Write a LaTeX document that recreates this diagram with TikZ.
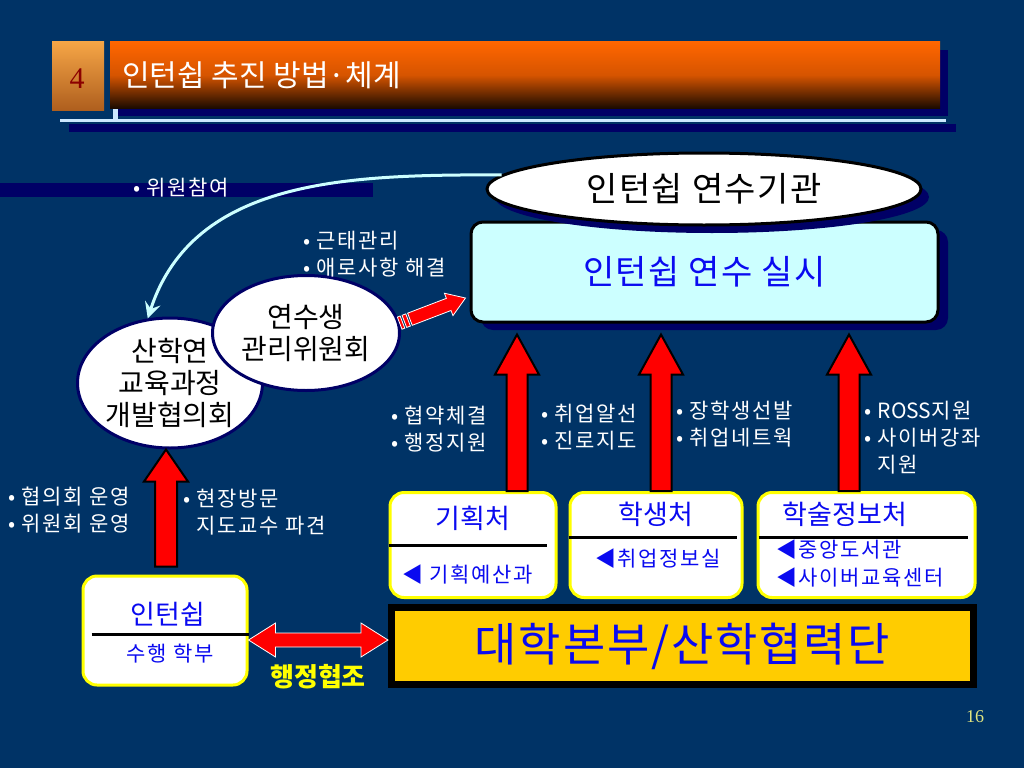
\documentclass[tikz,border=0pt]{standalone}
\usepackage{fontspec}
\setmainfont{Noto Sans CJK KR}
\newfontfamily\numfont{Liberation Serif}
\newfontfamily\spacedfont[LetterSpace=8]{Noto Sans CJK KR}
\newfontfamily\widefont[LetterSpace=4]{Noto Sans CJK KR}
\usetikzlibrary{arrows.meta,positioning,shapes.geometric,shadows,calc}
\definecolor{slideBlue}{HTML}{003366}
\definecolor{slideNavy}{HTML}{000066}
\definecolor{slideOrange}{HTML}{FF6600}
\definecolor{slideBrown}{HTML}{1C0B00}
\definecolor{slideCyan}{HTML}{CCFFFF}
\definecolor{slideLine}{HTML}{CCE8FF}
\definecolor{slideText}{HTML}{0A0AF0}
\definecolor{slideGold}{HTML}{FFCC00}
\definecolor{slideYellow}{HTML}{FFFF00}
\definecolor{slideRed}{HTML}{FF0000}
\definecolor{slideMaroon}{HTML}{8B0000}

% block arrow: [style]{from}{to}{half shaft}{half head}{head length}
\newcommand\blockarrow[6][]{%
  \coordinate (ba-h) at ($(#3)!#6!(#2)$);
  \draw[#1] ($(#2)!#4!90:(#3)$) -- ($(ba-h)!#4!90:(#3)$) -- ($(ba-h)!#5!90:(#3)$) -- (#3)
    -- ($(ba-h)!#5!-90:(#3)$) -- ($(ba-h)!#4!-90:(#3)$) -- ($(#2)!#4!-90:(#3)$) -- cycle;}
\newcommand\dblockarrow[6][]{%
  \coordinate (ba-a) at ($(#2)!#6!(#3)$);
  \coordinate (ba-b) at ($(#3)!#6!(#2)$);
  \draw[#1] (#2) -- ($(ba-a)!#5!90:(#3)$) -- ($(ba-a)!#4!90:(#3)$) -- ($(ba-b)!#4!-90:(#2)$)
    -- ($(ba-b)!#5!-90:(#2)$) -- (#3) -- ($(ba-b)!#5!90:(#2)$) -- ($(ba-b)!#4!90:(#2)$)
    -- ($(ba-a)!#4!-90:(#3)$) -- ($(ba-a)!#5!-90:(#3)$) -- cycle;}
\newcommand\blockbar[4][]{%
  \draw[#1] ($(#2)!#4!90:(#3)$) -- ($(#3)!#4!-90:(#2)$) -- ($(#3)!#4!90:(#2)$) -- ($(#2)!#4!-90:(#3)$) -- cycle;}

\begin{document}
\begin{tikzpicture}[x=1pt,y=-1pt,
 numbox/.style={top color={rgb,255:red,245;green,165;blue,70},bottom color={rgb,255:red,175;green,95;blue,30},minimum width=52,minimum height=68,inner sep=0pt},
 titlebar/.style={top color=slideOrange,bottom color=slideBrown,middle color={rgb,255:red,214;green,84;blue,0},minimum width=830,minimum height=66,inner sep=0pt},
 note/.style={text=white,font=\spacedfont\fontsize{21}{27}\selectfont,align=left,inner sep=0pt,anchor=west},
 council/.style={ellipse,draw=slideNavy,line width=3pt,fill=white,inner sep=0pt,inner xsep=-4pt,align=center,font=\fontsize{28}{32}\selectfont},
 shadowed/.style={drop shadow={shadow xshift=#1,shadow yshift=-8pt,fill=slideNavy,opacity=1}},
 unit/.style={rounded corners=14pt,draw=slideYellow,line width=3pt,fill=white,inner sep=0pt},
 unittitle/.style={text=slideText,font=\fontsize{27}{30}\selectfont,inner sep=0pt},
 unitsub/.style={text=slideText,font=\spacedfont\fontsize{21}{28}\selectfont,inner sep=0pt,align=left},
 divider/.style={draw=black,line width=3pt},
 bigarrow/.style={fill=slideRed,draw=black,line width=2pt,line join=miter},
 thinarrow/.style={fill=slideRed,draw=white,line width=0.8pt,line join=miter},
 feedback/.style={draw=slideCyan,line width=3pt,-{Stealth[length=16pt,width=16pt,inset=6pt]}}
]
\useasboundingbox (0,0) rectangle (1024,768);
\fill[slideBlue] (0,0) rectangle (1024,768);

% title
\fill[slideNavy] (117,50) rectangle (948,116);
\node[numbox] (num) at (78,76) {};
\node[text=slideMaroon,font=\numfont\fontsize{30}{30}\selectfont,inner sep=0pt] (numT) at (77,79) {4};
\node[titlebar] (bar) at (525,75) {};
\node[anchor=west,text=white,font=\fontsize{30}{30}\selectfont,inner sep=0pt] (title) at (122,75) {인턴쉽 추진 방법·체계};
\fill[slideLine] (60,119) rectangle (946,122);
\fill[slideLine] (113,109) rectangle (118,122);
\fill[slideNavy] (69,124) rectangle (956,132);
\fill[slideNavy] (0,183) rectangle (373,197);

\node[note] (n0) at (133,188) {• 위원참여};

% training institution
\node[shadowed=10pt,rounded corners=12pt,draw=black,line width=3pt,fill=slideCyan,minimum width=467,minimum height=100,
  text=slideText,font=\widefont\fontsize{34}{34}\selectfont] (silsi) at (704.5,272) {인턴쉽 연수 실시};
\node[shadowed=8pt,ellipse,draw=black,line width=3pt,fill=white,minimum width=434,minimum height=72,inner sep=0pt,
  font=\widefont\fontsize{34}{34}\selectfont] (gigwan) at (704,189) {인턴쉽 연수기관};

% committees
\node[council,minimum width=185,minimum height=130] (sanhak) at (170,383) {산학연\\교육과정\\개발협의회};
\node[council,minimum width=187,minimum height=115] (yeonsu) at (306,333) {연수생\\관리위원회};
\draw[feedback] (gigwan.176) to[out=180,in=72] (sanhak.109);

\coordinate (s0) at (yeonsu.6);
\coordinate (s9) at ($(silsi.west)+(-4,26)$);
\coordinate (s1) at ($(s0)!3pt!(s9)$);
\coordinate (s2) at ($(s0)!5pt!(s9)$);
\coordinate (s3) at ($(s0)!9pt!(s9)$);
\coordinate (s4) at ($(s0)!11pt!(s9)$);
\blockbar[thinarrow]{s0}{s1}{6.5pt}
\blockbar[thinarrow]{s2}{s3}{6.5pt}
\blockarrow[thinarrow]{s4}{s9}{6.5pt}{12pt}{18pt}

\node[note] (n1) at (303,254) {• 근태관리\\• 애로사항 해결};
\node[note] (n2) at (8,510) {• 협의회 운영\\• 위원회 운영};
\node[note] (n3) at (183,512) {• 현장방문\\\phantom{• }지도교수 파견};
\node[note] (n4) at (391,429) {• 협약체결\\• 행정지원};
\node[note] (n5) at (541,427) {• 취업알선\\• 진로지도};
\node[note] (n6) at (676,424) {• 장학생선발\\• 취업네트웍};
\node[note] (n7) at (864,438) {• {\normalfont ROSS}지원\\• 사이버강좌\\\phantom{• }지원};

% university units
\node[unit,minimum width=166,minimum height=105] (kh) at (473,545) {};
\node[unittitle] (khT) at (473,518) {기획처};
\draw[divider] (kh.west) -- ($(kh.east)+(-11,0)$);
\node[unitsub,anchor=west] (khS) at (402,575) {◀ 기획예산과};

\node[unit,minimum width=172,minimum height=105] (hs) at (656,545) {};
\node[unittitle] (hsT) at (656,514) {학생처};
\draw[divider] ($(hs.west)+(0,-8)$) -- ($(hs.east)+(-7,-8)$);
\node[unitsub] (hsS) at (658,559) {◀취업정보실};

\node[unit,minimum width=217,minimum height=105] (hi) at (866.5,545) {};
\node[unittitle] (hiT) at (845,514) {학술정보처};
\draw[divider] ($(hi.west)+(2,-8)$) -- ($(hi.east)+(-9,-8)$);
\node[unitsub,anchor=west] (hiS) at (776,564) {◀중앙도서관\\◀사이버교육센터};

\node[unit,minimum width=164,minimum height=109] (intern) at (165,630.5) {};
\node[unittitle] (internT) at (168,614) {인턴쉽};
\draw[divider] ($(intern.west)+(10,3.5)$) -- ($(intern.east)+(0,3.5)$);
\node[unitsub] (internS) at (170,654) {수행 학부};

\node[draw=black,line width=7pt,fill=slideGold,minimum width=582,minimum height=77,inner sep=0pt,
  text=slideText,font=\widefont\fontsize{46}{46}\selectfont] (bonbu) at (682.5,646) {\raisebox{-5pt}{대학본부/산학협력단}};

% support arrows
\coordinate (k1) at ($(kh.north)+(44,0)$);
\coordinate (k2) at ($(silsi.south -| k1)+(0,11)$);
\blockarrow[bigarrow]{k1}{k2}{10.5pt}{22pt}{40pt}
\coordinate (h1) at ($(hs.north)+(5,0)$);
\coordinate (h2) at ($(silsi.south -| h1)+(0,11)$);
\blockarrow[bigarrow]{h1}{h2}{10.5pt}{22pt}{40pt}
\coordinate (r1) at ($(hi.north)+(-17.5,0)$);
\coordinate (r2) at ($(silsi.south -| r1)+(0,11)$);
\blockarrow[bigarrow]{r1}{r2}{10.5pt}{22pt}{40pt}
\coordinate (i1) at ($(intern.north)+(1,-8)$);
\coordinate (i2) at (sanhak.south -| i1);
\blockarrow[bigarrow]{i1}{i2}{11pt}{22pt}{32pt}

\coordinate (d1) at ($(intern.east)+(0,9.5)$);
\coordinate (d2) at (bonbu.west |- d1);
\dblockarrow[thinarrow]{d1}{d2}{7pt}{17pt}{27pt}
\node[text=slideYellow,font=\fontsize{26}{26}\selectfont\bfseries,inner sep=0pt] (hj) at (318,677) {행정협조};

\node[text={rgb,255:red,224;green,228;blue,128},font=\numfont\fontsize{18}{18}\selectfont,inner sep=0pt] (page) at (975,717) {16};
\end{tikzpicture}
\end{document}
